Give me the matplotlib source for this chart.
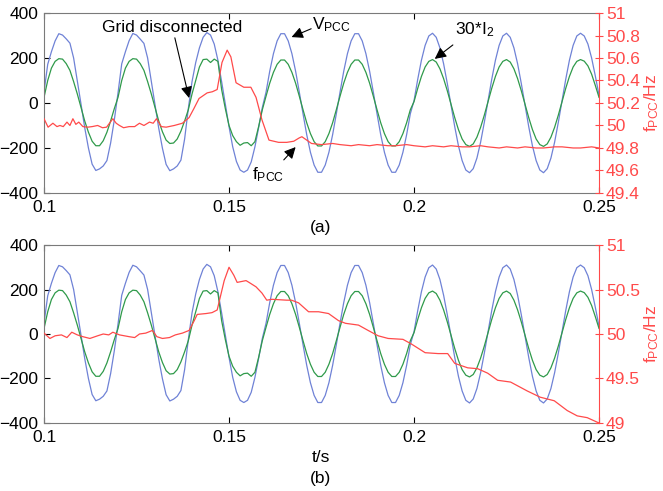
import numpy as np
import matplotlib
matplotlib.use("Agg")
import matplotlib.pyplot as plt
from matplotlib.ticker import FormatStrFormatter

plt.rcParams['font.family'] = ['Liberation Sans', 'DejaVu Sans']
plt.rcParams['mathtext.fontset'] = 'custom'
plt.rcParams['mathtext.rm'] = 'Liberation Sans'
plt.rcParams['mathtext.it'] = 'Liberation Sans:italic'

# sample times of the waveforms (1 ms step)
t_wave = np.round(0.100 + 0.001 * np.arange(151), 4)

# PCC voltage (V), 0.100 ... 0.250 s
v_pcc = [
    50, 172, 228, 276, 308, 302, 285, 266, 200, 98,
    -5, -110, -200, -272, -300, -293, -280, -256, -178, -75,
    45, 174, 228, 277, 309, 302, 284, 265, 200, 96,
    -6, -112, -201, -273, -301, -293, -280, -254, -160, -25,
    95, 180, 245, 292, 313, 302, 262, 190, 95, -5,
    -105, -195, -260, -298, -308, -298, -262, -195, -110, -20,
    48, 141, 219, 276, 308, 308, 276, 219, 141, 48,
    -48, -141, -219, -276, -308, -308, -276, -219, -141, -48,
    48, 141, 219, 276, 308, 308, 276, 219, 141, 48,
    -48, -141, -219, -276, -308, -308, -276, -219, -141, -48,
    10, 105, 190, 256, 298, 310, 292, 245, 174, 86,
    -10, -105, -190, -256, -298, -310, -292, -245, -174, -86,
    10, 105, 190, 256, 298, 310, 292, 245, 174, 86,
    -10, -105, -190, -256, -298, -310, -292, -245, -174, -86,
    10, 105, 190, 256, 298, 310, 298, 262, 200, 120,
    35,
]

# inverter output current scaled by 30 (A)
i2_x30 = [
    25, 100, 155, 185, 197, 195, 175, 145, 95, 40,
    -20, -80, -130, -170, -190, -190, -168, -130, -80, -25,
    25, 100, 155, 185, 197, 195, 175, 145, 95, 40,
    -20, -80, -128, -165, -180, -178, -160, -125, -80, -30,
    40, 100, 160, 193, 195, 180, 195, 185, 60, -25,
    -100, -145, -172, -188, -178, -176, -190, -172, -105, -30,
    30, 88, 136, 172, 191, 191, 172, 136, 88, 30,
    -30, -88, -136, -172, -191, -191, -172, -136, -88, -30,
    30, 88, 136, 172, 191, 191, 172, 136, 88, 30,
    -30, -88, -136, -172, -191, -191, -172, -136, -88, -30,
    6, 65, 118, 160, 185, 193, 182, 152, 108, 54,
    -6, -65, -118, -160, -185, -193, -182, -152, -108, -54,
    6, 65, 118, 160, 185, 193, 182, 152, 108, 54,
    -6, -65, -118, -160, -185, -193, -182, -152, -108, -54,
    6, 65, 118, 160, 185, 193, 186, 165, 128, 78,
    25,
]

# PCC frequency, case (a)
t_freq_a = [
    0.1000, 0.1011, 0.1024, 0.1035, 0.1043, 0.1052, 0.1062, 0.1070, 0.1078, 0.1086,
    0.1094, 0.1105, 0.1118, 0.1130, 0.1145, 0.1158, 0.1169, 0.1186, 0.1195, 0.1204,
    0.1215, 0.1230, 0.1245, 0.1258, 0.1270, 0.1285, 0.1295, 0.1304, 0.1317, 0.1330,
    0.1352, 0.1374, 0.1392, 0.1405, 0.1419, 0.1441, 0.1455, 0.1468, 0.1481, 0.1495,
    0.1505, 0.1519, 0.1540, 0.1559, 0.1573, 0.1589, 0.1608, 0.1634, 0.1656, 0.1675,
    0.1690, 0.1697, 0.1710, 0.1723, 0.1750, 0.1780, 0.1800, 0.1830, 0.1850, 0.1880,
    0.1900, 0.1930, 0.1950, 0.1980, 0.2000, 0.2030, 0.2050, 0.2080, 0.2100, 0.2130,
    0.2150, 0.2180, 0.2200, 0.2230, 0.2250, 0.2280, 0.2300, 0.2330, 0.2350, 0.2380,
    0.2400, 0.2430, 0.2450, 0.2480, 0.2500,
]
f_pcc_a = [
    50.06, 49.985, 50.02, 49.99, 50.00, 49.99, 50.03, 50.00, 50.06, 50.01,
    50.03, 49.99, 49.985, 49.99, 50.00, 49.98, 49.985, 50.06, 50.02, 50.00,
    49.98, 49.99, 49.99, 50.02, 50.00, 50.03, 50.02, 50.06, 49.99, 49.985,
    50.00, 50.02, 50.07, 50.15, 50.24, 50.29, 50.30, 50.32, 50.56, 50.67,
    50.61, 50.38, 50.34, 50.34, 50.25, 50.05, 49.87, 49.85, 49.85, 49.86,
    49.89, 49.90, 49.87, 49.84, 49.83, 49.84, 49.83, 49.82, 49.83, 49.82,
    49.83, 49.82, 49.82, 49.83, 49.82, 49.81, 49.82, 49.81, 49.82, 49.81,
    49.81, 49.82, 49.81, 49.80, 49.81, 49.80, 49.81, 49.80, 49.80, 49.81,
    49.81, 49.80, 49.80, 49.81, 49.80,
]

# PCC frequency, case (b)
t_freq_b = [
    0.1000, 0.1008, 0.1016, 0.1030, 0.1047, 0.1062, 0.1075, 0.1090, 0.1105, 0.1124,
    0.1145, 0.1160, 0.1175, 0.1186, 0.1204, 0.1230, 0.1245, 0.1258, 0.1275, 0.1293,
    0.1305, 0.1320, 0.1339, 0.1355, 0.1374, 0.1392, 0.1406, 0.1414, 0.1438, 0.1454,
    0.1468, 0.1487, 0.1500, 0.1513, 0.1522, 0.1546, 0.1554, 0.1573, 0.1589, 0.1602,
    0.1616, 0.1656, 0.1669, 0.1688, 0.1715, 0.1742, 0.1769, 0.1796, 0.1815, 0.1850,
    0.1876, 0.1903, 0.1930, 0.1970, 0.1992, 0.2030, 0.2065, 0.2091, 0.2110, 0.2145,
    0.2172, 0.2199, 0.2226, 0.2261, 0.2306, 0.2341, 0.2379, 0.2414, 0.2441, 0.2468,
    0.2500,
]
f_pcc_b = [
    50.01, 49.98, 49.95, 49.98, 49.99, 49.96, 50.02, 49.99, 49.97, 49.95,
    49.98, 50.00, 49.99, 50.02, 49.99, 49.97, 49.96, 50.00, 50.01, 50.04,
    49.97, 49.95, 49.96, 49.99, 50.01, 50.04, 50.15, 50.22, 50.23, 50.24,
    50.27, 50.60, 50.75, 50.66, 50.58, 50.60, 50.58, 50.53, 50.46, 50.38,
    50.39, 50.38, 50.38, 50.35, 50.25, 50.25, 50.23, 50.15, 50.12, 50.10,
    50.04, 49.98, 49.95, 49.94, 49.89, 49.79, 49.78, 49.78, 49.67, 49.62,
    49.61, 49.56, 49.48, 49.46, 49.36, 49.29, 49.25, 49.14, 49.08, 49.06,
    49.00,
]

x_ticks = [0.1, 0.15, 0.2, 0.25]
v_ticks = [-400, -200, 0, 200, 400]
f_ticks_a = [49.4, 49.6, 49.8, 50.0, 50.2, 50.4, 50.6, 50.8, 51.0]
f_ticks_b = [49.0, 49.5, 50.0, 50.5, 51.0]

BLUE = '#6f82d6'
GREEN = '#2f9a4a'
RED = '#ff4a4a'
SPINE = '#7a7a7a'
FS = 12.5

fig = plt.figure(figsize=(6.63, 4.91), dpi=100)
ax_a = fig.add_axes([0.0664, 0.607, 0.8371, 0.3665])
ax_b = fig.add_axes([0.0664, 0.1385, 0.8371, 0.3625])


def draw_panel(ax, t_f, f_vals, f_lim, f_ticks):
    ax.plot(t_wave, v_pcc, color=BLUE, lw=0.9)
    ax.plot(t_wave, i2_x30, color=GREEN, lw=0.9)
    ax.set_xlim(0.1, 0.25)
    ax.set_ylim(-400, 400)
    ax.set_xticks(x_ticks)
    ax.set_yticks(v_ticks)
    ax.xaxis.set_major_formatter(FormatStrFormatter('%g'))
    ax.tick_params(axis='both', direction='in', length=4, labelsize=FS,
                   top=True, colors='black')
    ax.tick_params(axis='x', pad=5)
    ax.tick_params(axis='y', pad=4, right=False)
    for side in ('left', 'top', 'bottom'):
        ax.spines[side].set_color(SPINE)
    ax.spines['right'].set_visible(False)

    ax2 = ax.twinx()
    ax2.plot(t_f, f_vals, color=RED, lw=0.9)
    ax2.set_ylim(*f_lim)
    ax2.set_yticks(f_ticks)
    ax2.yaxis.set_major_formatter(FormatStrFormatter('%g'))
    ax2.tick_params(axis='y', direction='inout', length=6, colors=RED,
                    labelsize=FS, pad=2)
    ax2.spines['right'].set_color(RED)
    for side in ('left', 'top', 'bottom'):
        ax2.spines[side].set_visible(False)
    ax2.set_ylabel(r'$\mathrm{f_{PCC}/Hz}$', color=RED, fontsize=FS, labelpad=2)
    return ax2


draw_panel(ax_a, t_freq_a, f_pcc_a, (49.4, 51.0), f_ticks_a)
draw_panel(ax_b, t_freq_b, f_pcc_b, (49.0, 51.0), f_ticks_b)

arrow = dict(arrowstyle='-|>', color='black', lw=0.8, mutation_scale=17,
             shrinkA=0, shrinkB=0)
ax_a.annotate('Grid disconnected', xy=(0.1392, 22), xytext=(0.1347, 302),
              fontsize=FS, ha='center', va='bottom', arrowprops=arrow, zorder=5)
ax_a.annotate('', xy=(0.1669, 293), xytext=(0.1722, 330), arrowprops=arrow)
ax_a.text(0.1725, 350, r'$\mathrm{V_{PCC}}$', fontsize=FS, ha='left', va='center')
ax_a.annotate('', xy=(0.2056, 196), xytext=(0.2105, 258), arrowprops=arrow)
ax_a.text(0.2111, 325, r'$\mathrm{30{*}I_2}$', fontsize=FS, ha='left', va='center')
ax_a.annotate('', xy=(0.1680, -196), xytext=(0.1648, -253), arrowprops=arrow)
ax_a.text(0.1562, -320, r'$\mathrm{f_{PCC}}$', fontsize=FS, ha='left', va='center')

fig.text(0.484, 0.536, '(a)', fontsize=FS, ha='center', va='center')
fig.text(0.484, 0.069, 't/s', fontsize=FS, ha='center', va='center')
fig.text(0.484, 0.026, '(b)', fontsize=FS, ha='center', va='center')

fig.savefig('out.png', dpi=100)
